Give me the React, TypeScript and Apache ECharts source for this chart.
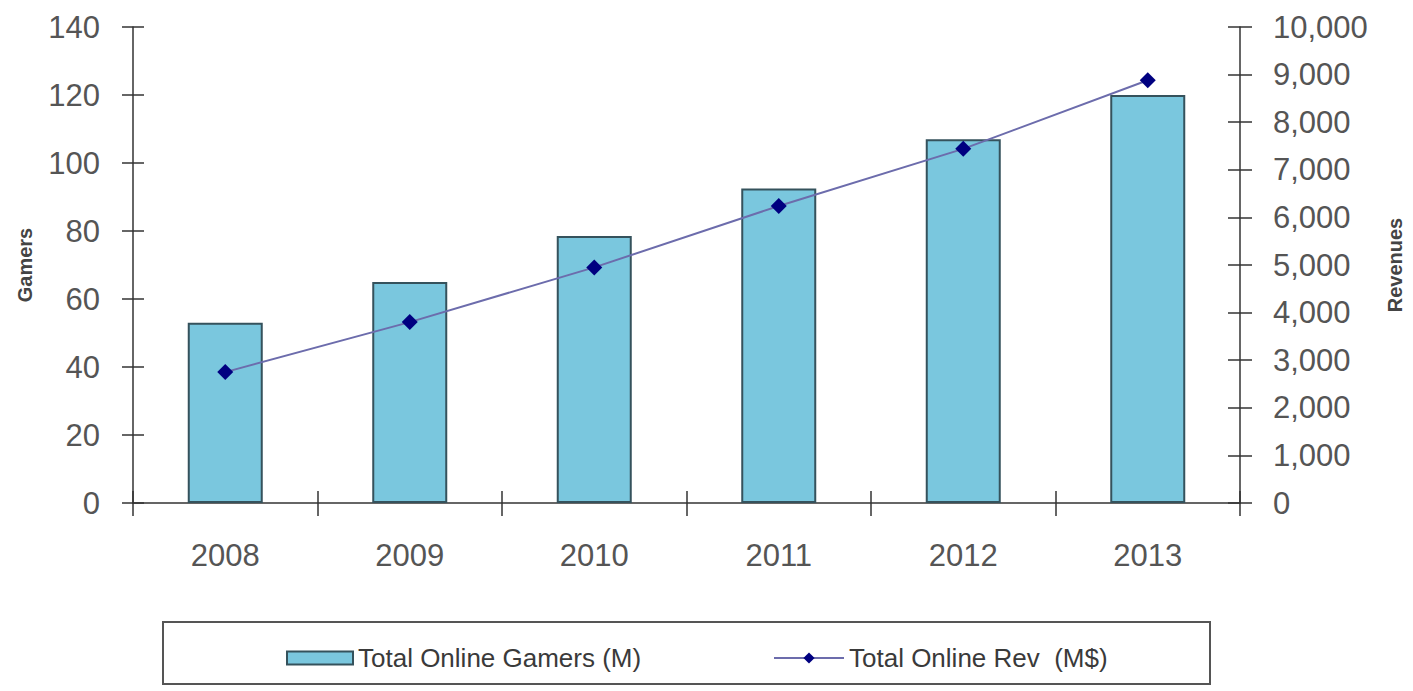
import React, { useEffect, useRef } from "react";
import * as echarts from "echarts";

const years = ["2008", "2009", "2010", "2011", "2012", "2013"];
const gamers = [53, 65, 78.5, 92.5, 107, 120];
const revenues = [2750, 3800, 4950, 6240, 7440, 8880];
const gamersName = "Total Online Gamers (M)";
const revName = "Total Online Rev  (M$)";

export default function App() {
  const ref = useRef<HTMLDivElement>(null);
  useEffect(() => {
    const chart = echarts.init(ref.current!, undefined, { renderer: "svg" });
    const font = "Liberation Sans, Arial, sans-serif";
    const axisCol = "#333";
    const tick = (inside: boolean, len: number) => ({
      show: true,
      inside,
      length: len,
      lineStyle: { color: axisCol, width: 1.5 },
    });
    const legendText = { fontSize: 26, color: "#3a3a3a", fontFamily: font };
    chart.setOption({
      animation: false,
      backgroundColor: "#fff",
      textStyle: { fontFamily: font },
      grid: { left: 133, right: 168, top: 27, bottom: 188 },
      legend: [
        {
          left: 281,
          top: 640,
          itemWidth: 66,
          itemHeight: 13,
          itemGap: 6,
          textStyle: legendText,
          data: [{ name: gamersName, icon: "rect" }],
        },
        {
          left: 768,
          top: 640,
          itemWidth: 70,
          itemHeight: 14,
          textStyle: legendText,
          data: [{ name: revName }],
        },
      ],
      graphic: [
        {
          type: "rect",
          shape: { x: 163, y: 622, width: 1047, height: 62 },
          style: { fill: "none", stroke: "#555", lineWidth: 2 },
        },
      ],
      xAxis: [
        {
          type: "category",
          data: years,
          axisLine: { lineStyle: { color: axisCol, width: 1.5 } },
          axisTick: tick(false, 13),
          axisLabel: { fontSize: 31, color: "#555", margin: 37 },
        },
        {
          type: "category",
          data: years,
          position: "bottom",
          axisLine: { show: false },
          axisTick: tick(true, 12),
          axisLabel: { show: false },
        },
      ],
      yAxis: [
        {
          type: "value",
          min: 0,
          max: 140,
          interval: 20,
          name: "Gamers",
          nameLocation: "middle",
          nameGap: 98,
          nameRotate: 90,
          nameTextStyle: { fontSize: 20, fontWeight: "bold", color: "#444" },
          axisLine: { show: true, lineStyle: { color: axisCol, width: 1.5 } },
          axisTick: tick(false, 11),
          axisLabel: { fontSize: 31, color: "#555", margin: 33 },
          splitLine: { show: false },
        },
        {
          type: "value",
          min: 0,
          max: 10000,
          interval: 1000,
          name: "Revenues",
          nameLocation: "middle",
          nameGap: 145,
          nameRotate: 90,
          nameTextStyle: { fontSize: 20, fontWeight: "bold", color: "#444" },
          axisLine: { show: true, lineStyle: { color: axisCol, width: 1.5 } },
          axisTick: tick(false, 12),
          axisLabel: {
            fontSize: 31,
            color: "#555",
            margin: 33,
            formatter: (v: number) => v.toLocaleString("en-US"),
          },
          splitLine: { show: false },
        },
        {
          type: "value",
          position: "left",
          min: 0,
          max: 140,
          interval: 20,
          axisLine: { show: false },
          axisTick: tick(true, 11),
          axisLabel: { show: false },
          splitLine: { show: false },
        },
        {
          type: "value",
          position: "right",
          min: 0,
          max: 10000,
          interval: 1000,
          axisLine: { show: false },
          axisTick: tick(true, 12),
          axisLabel: { show: false },
          splitLine: { show: false },
        },
      ],
      series: [
        {
          name: gamersName,
          type: "bar",
          data: gamers,
          yAxisIndex: 0,
          barWidth: 75,
          itemStyle: { color: "#7ac7de", borderColor: "#35525c", borderWidth: 2 },
        },
        {
          name: revName,
          type: "line",
          data: revenues,
          yAxisIndex: 1,
          symbol: "diamond",
          symbolSize: 16,
          lineStyle: { color: "#6c6cac", width: 2 },
          itemStyle: { color: "#000080" },
        },
      ],
    });
    return () => chart.dispose();
  }, []);
  return (
    <div
      ref={ref}
      style={{ position: "fixed", left: 0, top: 0, width: 1413, height: 691 }}
    />
  );
}
